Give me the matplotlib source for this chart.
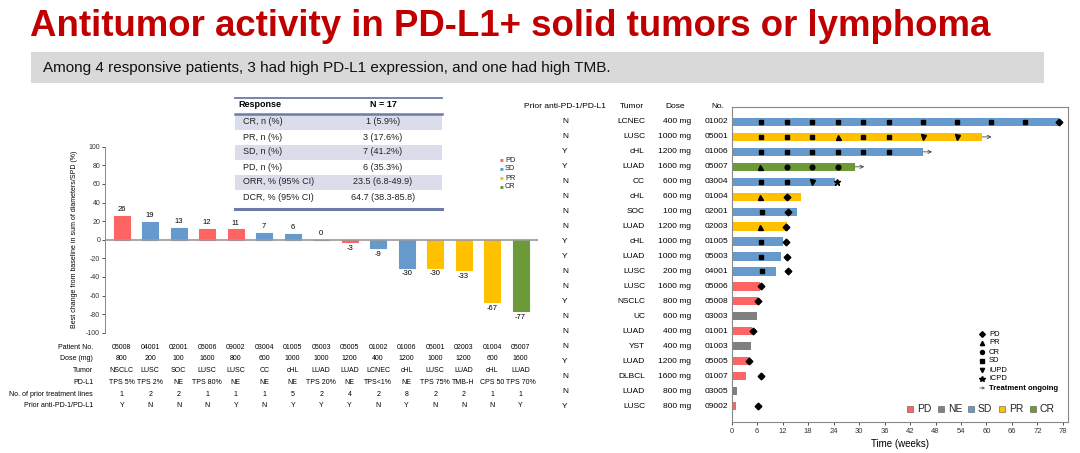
import numpy as np
import matplotlib
matplotlib.use('Agg')
import matplotlib.pyplot as plt
import matplotlib.transforms as mtransforms
from matplotlib.patches import Rectangle

plt.rcParams['font.family'] = ['Liberation Sans', 'DejaVu Sans']
plt.rcParams['axes.unicode_minus'] = False

W, H = 1080, 453

# ---- data: waterfall ----
wf_patients = ['05008', '04001', '02001', '05006', '09002', '03004', '01005', '05003',
               '05005', '01002', '01006', '05001', '02003', '01004', '05007']
wf_change = [26, 19, 13, 12, 11, 7, 6, 0, -3, -9, -30, -30, -33, -67, -77]
wf_response = ['PD', 'SD', 'SD', 'PD', 'PD', 'SD', 'SD', 'SD',
               'PD', 'SD', 'SD', 'PR', 'PR', 'PR', 'CR']
wf_dose = ['800', '200', '100', '1600', '800', '600', '1000', '1000',
           '1200', '400', '1200', '1000', '1200', '600', '1600']
wf_tumor = ['NSCLC', 'LUSC', 'SOC', 'LUSC', 'LUSC', 'CC', 'cHL', 'LUAD',
            'LUAD', 'LCNEC', 'cHL', 'LUSC', 'LUAD', 'cHL', 'LUAD']
wf_pdl1 = ['TPS 5%', 'TPS 2%', 'NE', 'TPS 80%', 'NE', 'NE', 'NE', 'TPS 20%',
           'NE', 'TPS<1%', 'NE', 'TPS 75%', 'TMB-H', 'CPS 50', 'TPS 70%']
wf_lines = ['1', '2', '2', '1', '1', '1', '5', '2', '4', '2', '8', '2', '2', '1', '1']
wf_prior = ['Y', 'N', 'N', 'N', 'Y', 'N', 'Y', 'Y', 'Y', 'N', 'Y', 'N', 'N', 'N', 'Y']

# ---- data: response table ----
tbl_labels = ['CR, n (%)', 'PR, n (%)', 'SD, n (%)', 'PD, n (%)',
              'ORR, % (95% CI)', 'DCR, % (95% CI)']
tbl_values = ['1 (5.9%)', '3 (17.6%)', '7 (41.2%)', '6 (35.3%)',
              '23.5 (6.8-49.9)', '64.7 (38.3-85.8)']

# ---- data: swimmer ----
sw_no = ['01002', '05001', '01006', '05007', '03004', '01004', '02001', '02003', '01005', '05003',
         '04001', '05006', '05008', '03003', '01001', '01003', '05005', '01007', '03005', '09002']
sw_prior = ['N', 'N', 'Y', 'Y', 'N', 'N', 'N', 'N', 'Y', 'Y',
            'N', 'N', 'Y', 'N', 'N', 'N', 'Y', 'N', 'N', 'Y']
sw_tumor = ['LCNEC', 'LUSC', 'cHL', 'LUAD', 'CC', 'cHL', 'SOC', 'LUAD', 'cHL', 'LUAD',
            'LUSC', 'LUSC', 'NSCLC', 'UC', 'LUAD', 'YST', 'LUAD', 'DLBCL', 'LUAD', 'LUSC']
sw_dose = ['400 mg', '1000 mg', '1200 mg', '1600 mg', '600 mg', '600 mg', '100 mg', '1200 mg',
           '1000 mg', '1000 mg', '200 mg', '1600 mg', '800 mg', '600 mg', '400 mg', '400 mg',
           '1200 mg', '1600 mg', '800 mg', '800 mg']
sw_best = ['SD', 'PR', 'SD', 'CR', 'SD', 'PR', 'SD', 'PR', 'SD', 'SD',
           'SD', 'PD', 'PD', 'NE', 'PD', 'NE', 'PD', 'PD', 'NE', 'PD']
sw_weeks = [77, 59, 45, 29, 24.3, 16.3, 15.4, 13, 12, 11.5,
            10.5, 6.7, 6.3, 5.9, 4.7, 4.6, 4.4, 3.4, 1.3, 1.1]
sw_ongoing = [False, True, True, True, False, False, False, False, False, False,
              False, False, False, False, False, False, False, False, False, False]
sw_visits = [
    [(7, 'SD'), (13, 'SD'), (19, 'SD'), (25, 'SD'), (31, 'SD'), (37, 'SD'),
     (45, 'SD'), (53, 'SD'), (61, 'SD'), (69, 'SD'), (77, 'PD')],
    [(7, 'SD'), (13, 'SD'), (19, 'SD'), (25, 'PR'), (31, 'SD'), (37, 'SD'),
     (45, 'iUPD'), (53, 'iUPD')],
    [(7, 'SD'), (13, 'SD'), (19, 'SD'), (25, 'SD'), (31, 'SD'), (37, 'SD')],
    [(6.7, 'PR'), (13, 'CR'), (19, 'CR'), (25, 'CR')],
    [(7, 'SD'), (13, 'SD'), (19, 'iUPD'), (24.9, 'iCPD')],
    [(6.7, 'PR'), (13, 'PD')],
    [(7.2, 'SD'), (13.2, 'PD')],
    [(6.7, 'PR'), (12.9, 'PD')],
    [(6.9, 'SD'), (12.9, 'PD')],
    [(6.9, 'SD'), (13, 'PD')],
    [(7.2, 'SD'), (13.2, 'PD')],
    [(6.9, 'PD')],
    [(6.1, 'PD')],
    [],
    [(4.9, 'PD')],
    [],
    [(4.1, 'PD')],
    [(6.9, 'PD')],
    [],
    [(6.1, 'PD')],
]

colors = {'PD': '#FF6464', 'SD': '#6699CC', 'PR': '#FFC000', 'CR': '#6C9A38', 'NE': '#808080'}
markers = {'PD': 'D', 'PR': '^', 'CR': 'o', 'SD': 's', 'iUPD': 'v', 'iCPD': '*'}
msizes = {'PD': 3.4, 'PR': 3.6, 'CR': 3.4, 'SD': 3.2, 'iUPD': 3.6, 'iCPD': 4.8}


def fx(px):
    return px / W


def fy(py):
    return 1 - py / H


fig = plt.figure(figsize=(W / 100, H / 100), dpi=100)
fig.patch.set_facecolor('white')

# ================= waterfall =================
ax = fig.add_axes([fx(105), fy(332.7), (538 - 105) / W, 186 / H])
x = np.arange(len(wf_change))
ax.bar(x, wf_change, width=0.56, color=[colors[r] for r in wf_response],
       edgecolor=[colors[r] for r in wf_response], linewidth=0.8, zorder=2)
ax.axhline(0, color='#9a9a9a', linewidth=1.2, zorder=3)
ax.set_xlim(-0.586, 14.61)
ax.set_ylim(-100, 100)
ax.set_yticks(np.arange(-100, 101, 20))
ax.tick_params(axis='y', labelsize=5, length=2, width=0.6, pad=1.5, colors='#333333')
ax.set_xticks([])
for s in ['top', 'right', 'bottom']:
    ax.spines[s].set_visible(False)
ax.spines['left'].set_color('#888888')
ax.spines['left'].set_linewidth(0.7)
ax.set_ylabel('Best change from baseline in sum of diameters/SPD (%)', fontsize=5, labelpad=6)
for xi, v in zip(x, wf_change):
    if v >= 0:
        ax.text(xi, v + 3, str(v), ha='center', va='bottom', fontsize=5.5)
    else:
        ax.text(xi, v - 3, str(v), ha='center', va='top', fontsize=5.5)

# waterfall legend
for i, k in enumerate(['PD', 'SD', 'PR', 'CR']):
    yy = 160 + i * 9
    fig.text(fx(501), fy(yy), '\u25a0', color=colors[k], fontsize=4.5, ha='center', va='center')
    fig.text(fx(505), fy(yy), k, fontsize=5.3, ha='left', va='center', color='#222222')

# table below waterfall
trans = mtransforms.blended_transform_factory(ax.transData, fig.transFigure)
row_names = ['Patient No.', 'Dose (mg)', 'Tumor', 'PD-L1',
             'No. of prior treatment lines', 'Prior anti-PD-1/PD-L1']
row_vals = [wf_patients, wf_dose, wf_tumor, wf_pdl1, wf_lines, wf_prior]
row_y = [347.5, 359, 370.5, 382, 395, 405.5]
for name, vals, yy in zip(row_names, row_vals, row_y):
    fig.text(fx(93), fy(yy), name, fontsize=5, ha='right', va='center')
    for xi, v in zip(x, vals):
        ax.text(xi, fy(yy), v, transform=trans, fontsize=5, ha='center', va='center',
                clip_on=False)

# ================= overlay (title, subtitle, response table) =================
ov = fig.add_axes([0, 0, 1, 1], zorder=5)
ov.set_xlim(0, W)
ov.set_ylim(H, 0)
ov.axis('off')
ov.patch.set_alpha(0)

ov.text(30, 36, 'Antitumor activity in PD-L1+ solid tumors or lymphoma', fontsize=26.4,
        fontweight='bold', color='#C00000', va='baseline', ha='left')
ov.add_patch(Rectangle((31, 52), 1013, 31, facecolor='#D9D9D9', edgecolor='none'))
ov.text(43, 68, 'Among 4 responsive patients, 3 had high PD-L1 expression, and one had high TMB.',
        fontsize=11, va='center', ha='left', color='#111111')

# response table
tx0, tx1 = 235, 442
line_c = '#6E7BA8'
ov.add_patch(Rectangle((tx0, 97), tx1 - tx0, 113, facecolor='white', edgecolor='none'))
ov.plot([tx0, tx1], [97.7, 97.7], color=line_c, lw=1.3)
ov.text(238, 104.5, 'Response', fontsize=6.5, fontweight='bold', va='center', ha='left')
ov.text(383, 104.5, 'N = 17', fontsize=6.5, fontweight='bold', va='center', ha='center')
ov.plot([tx0, tx1], [113.5, 113.5], color=line_c, lw=1.8)
row_h = 15
for i, (lab, val) in enumerate(zip(tbl_labels, tbl_values)):
    y0 = 114.5 + i * row_h
    if i % 2 == 0:
        ov.add_patch(Rectangle((tx0, y0), tx1 - tx0, row_h, facecolor='#DCDDEA',
                               edgecolor='none'))
    ov.text(243, y0 + row_h / 2, lab, fontsize=6.5, va='center', ha='left', color='#222222')
    ov.text(383, y0 + row_h / 2, val, fontsize=6.5, va='center', ha='center', color='#222222')
ov.plot([tx0, tx1], [208.5, 208.5], color=line_c, lw=2.2)

# ================= swimmer =================
sw = fig.add_axes([fx(731.7), fy(421.7), (1068 - 731.7) / W, (421.7 - 106.7) / H])
n = len(sw_no)
yrows = np.arange(n)
sw.barh(yrows, sw_weeks, height=0.55, color=[colors[b] for b in sw_best],
        edgecolor='none', zorder=2)
for yi, visits in zip(yrows, sw_visits):
    for wk, kind in visits:
        sw.plot(wk, yi, marker=markers[kind], color='black', markersize=msizes[kind],
                linestyle='none', zorder=4)
for yi, wk, ong in zip(yrows, sw_weeks, sw_ongoing):
    if ong:
        sw.annotate('', xy=(wk + 2.2, yi), xytext=(wk, yi),
                    arrowprops=dict(arrowstyle='->', color='#444444', lw=0.6,
                                    shrinkA=0, shrinkB=0, mutation_scale=6), zorder=4)
sw.set_xlim(0, 79.2)
sw.set_ylim(20.05, -1.02)
sw.set_yticks([])
sw.set_xticks(np.arange(0, 79, 6))
sw.tick_params(axis='x', labelsize=5.5, length=2.5, width=0.6, pad=2, colors='#333333')
for s in sw.spines.values():
    s.set_color('#888888')
    s.set_linewidth(0.8)
sw.set_xlabel('Time (weeks)', fontsize=7, labelpad=3)

strans = mtransforms.blended_transform_factory(fig.transFigure, sw.transData)
fig.text(fx(565), fy(106), 'Prior anti-PD-1/PD-L1', fontsize=6, ha='center', va='center')
fig.text(fx(632), fy(106), 'Tumor', fontsize=6, ha='center', va='center')
fig.text(fx(675), fy(106), 'Dose', fontsize=6, ha='center', va='center')
fig.text(fx(718), fy(106), 'No.', fontsize=6, ha='center', va='center')
for yi in yrows:
    sw.text(fx(565), yi, sw_prior[yi], transform=strans, fontsize=6, ha='center', va='center')
    sw.text(fx(645), yi, sw_tumor[yi], transform=strans, fontsize=6, ha='right', va='center')
    sw.text(fx(691), yi, sw_dose[yi], transform=strans, fontsize=6, ha='right', va='center')
    sw.text(fx(728), yi, sw_no[yi], transform=strans, fontsize=6, ha='right', va='center')

# marker legend
leg_items = ['PD', 'PR', 'CR', 'SD', 'iUPD', 'iCPD']
for i, k in enumerate(leg_items):
    yy = 334 + i * 9
    ov.plot(982, yy, marker=markers[k], color='black', markersize=msizes[k] * 0.85,
            linestyle='none')
    ov.text(989, yy, k, fontsize=5.5, va='center', ha='left')
yy = 334 + 6 * 9
ov.annotate('', xy=(985, yy), xytext=(979.5, yy),
            arrowprops=dict(arrowstyle='->', color='#444444', lw=0.5, shrinkA=0,
                            shrinkB=0, mutation_scale=4))
ov.text(989, yy, 'Treatment ongoing', fontsize=5.5, fontweight='bold', va='center',
        ha='left')

# color legend
for k, (sx, tx) in zip(['PD', 'NE', 'SD', 'PR', 'CR'],
                       [(910, 917), (941, 948), (971, 978), (1002, 1009), (1033, 1040)]):
    ov.add_patch(Rectangle((sx - 3.2, 409 - 3.2), 6.4, 6.4, facecolor=colors[k],
                           edgecolor='#555555', linewidth=0.4))
    ov.text(tx, 409, k, fontsize=7.5, va='center', ha='left', color='#222222')

fig.savefig('out.png', dpi=100)
